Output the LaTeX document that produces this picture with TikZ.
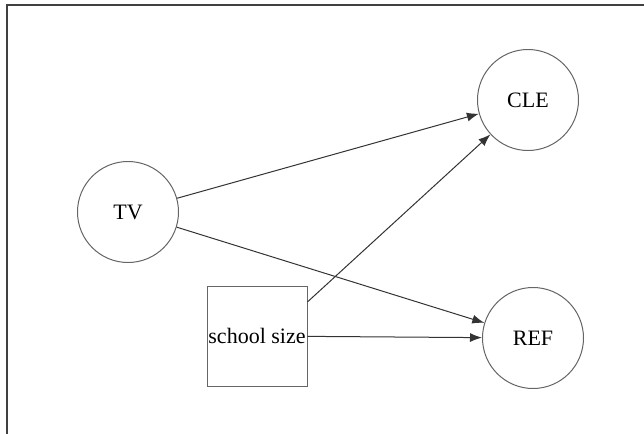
\documentclass[tikz,border=0pt]{standalone}
\usepackage{fontspec}
\setmainfont{Liberation Serif}
\usetikzlibrary{arrows.meta,automata}

\begin{document}
\begin{tikzpicture}[->,>={Latex[length=6pt,width=4.5pt]},x=0.5pt,y=-0.5pt,
                    line width=0.5pt,every edge/.append style={black!80}]
  \tikzstyle{every state}=[draw=black!60,text=black,minimum size=50.5pt,inner sep=0pt,
                           font=\fontsize{11}{13}\selectfont]
  \useasboundingbox (0,0) rectangle (644,434);
  \draw[-,black!75,line width=0.6pt] (7,434) -- (7,5) -- (644,5);

  \node[state] (TV)  at (128,212) {TV};
  \node[state] (CLE) at (528,100) {CLE};
  \node[state] (REF) at (533,338) {REF};
  \node[draw=black!60,rectangle,minimum size=50pt,inner sep=0pt,
        font=\fontsize{11}{13}\selectfont] (size) at (257,336) {school size};

  \path (TV) edge        (CLE)
        (TV) edge        (REF)
        (size.34) edge   (CLE)
        (size) edge      (REF);
\end{tikzpicture}
\end{document}
